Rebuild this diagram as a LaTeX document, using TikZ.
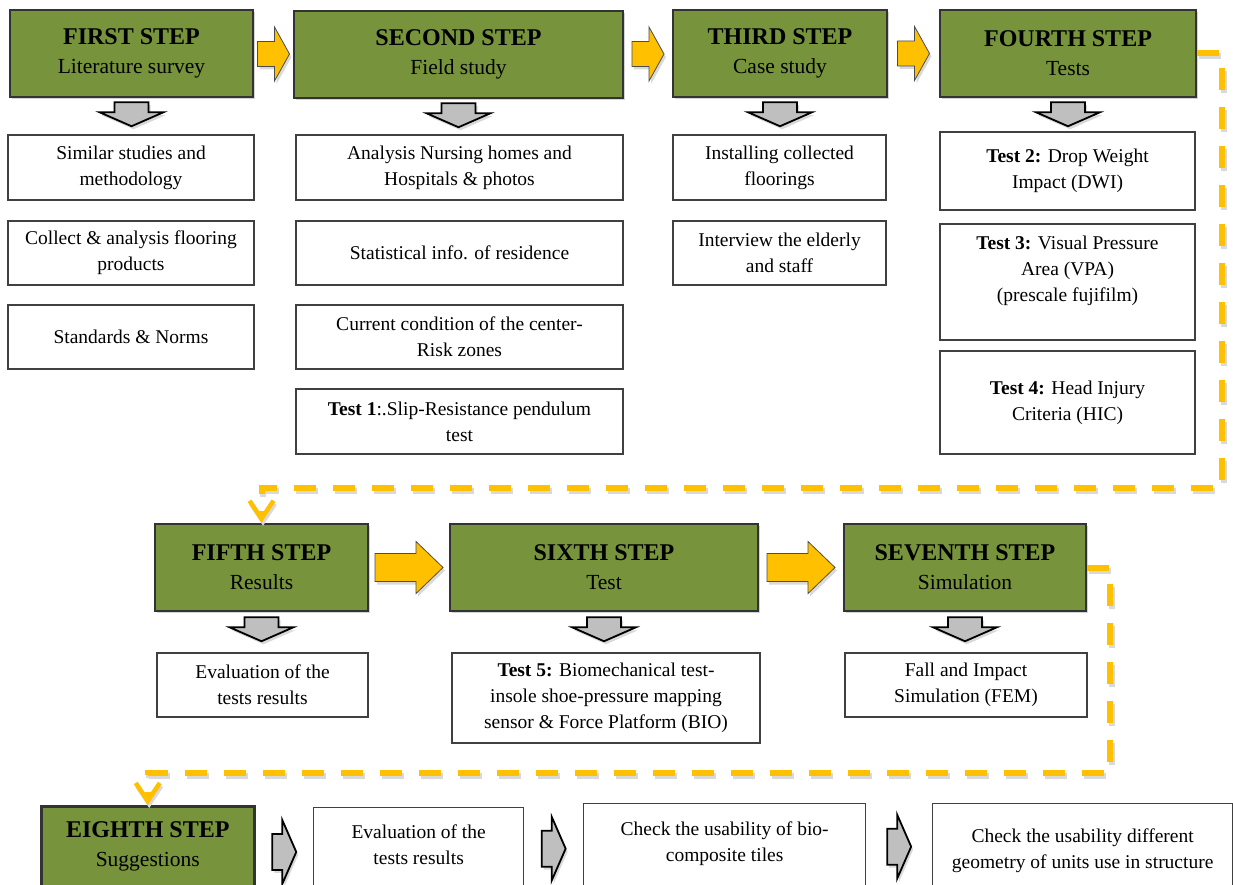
\documentclass[tikz,border=0pt]{standalone}
\usepackage{fontspec}
\setmainfont{Liberation Serif}
\usetikzlibrary{positioning,calc,shadows,arrows.meta}
\definecolor{stepgreen}{HTML}{77933C}
\definecolor{flowyellow}{HTML}{FFC000}
\definecolor{arrowgray}{HTML}{BFBFBF}
\definecolor{boxline}{HTML}{404040}
\newcommand{\steptitle}[2]{{\fontsize{24}{29}\selectfont\bfseries #1}\\#2}

\begin{document}
\begin{tikzpicture}[x=1pt,y=-1pt,
    stepbox/.style={draw=black!80,line width=2.5pt,fill=stepgreen,align=center,
        font=\fontsize{21.5}{29}\selectfont,
        drop shadow={shadow xshift=2pt,shadow yshift=-2pt,opacity=.35}},
    infobox/.style={draw=boxline,line width=1.3pt,fill=white,align=center,
        font=\fontsize{19.5}{26}\selectfont},
    steplab/.style={anchor=north,align=center,font=\fontsize{21.5}{29}\selectfont},
    infolab/.style={anchor=north,align=center,font=\fontsize{19.5}{26}\selectfont},
    yarr/.style={draw=black!70,line width=.8pt,fill=flowyellow,
        drop shadow={shadow xshift=2pt,shadow yshift=-3pt,opacity=.3}},
    garr/.style={draw=black,line width=1.8pt,fill=arrowgray,line join=miter,
        drop shadow={shadow xshift=2pt,shadow yshift=-3pt,opacity=.3}},
    flow/.style={draw=flowyellow,line width=6pt,dash pattern=on 22pt off 17pt,
        -{Straight Barb[length=18pt,width=24pt,line width=4.5pt]}},
    flowshadow/.style={flow,draw=black!15,transform canvas={shift={(1.5pt,-3pt)}}},
    yarrS/.pic={\draw[yarr] (-16,-12.5) -- (1,-12.5) -- (1,-27) -- (16,0) -- (1,27)
        -- (1,12.5) -- (-16,12.5) -- cycle;},
    yarrL/.pic={\draw[yarr] (-34,-14) -- (7,-14) -- (7,-26) -- (34,0) -- (7,26)
        -- (7,14) -- (-34,14) -- cycle;},
    garrD/.pic={\draw[garr] (-17,0) -- (17,0) -- (17,10) -- (32,10) -- (0,24)
        -- (-32,10) -- (-17,10) -- cycle;},
    garrR/.pic={\draw[garr] (-12,-18) -- (-2,-18) -- (-2,-32) -- (12,0) -- (-2,32)
        -- (-2,18) -- (-12,18) -- cycle;}]
    \useasboundingbox (0,0) rectangle (1233,885);
    \clip (0,0) rectangle (1233,885);

    \node[stepbox,minimum width=243,minimum height=87] (s1) at (131.5,53.5)
        {\steptitle{FIRST STEP}{Literature survey}};
    \node[stepbox,minimum width=329,minimum height=87] (s2) at (458.5,54.5)
        {\steptitle{SECOND STEP}{Field study}};
    \node[stepbox,minimum width=214,minimum height=87] (s3) at (780,53.5)
        {\steptitle{THIRD STEP}{Case study}};
    \node[stepbox,minimum width=256,minimum height=87] (s4) at (1068,53.5)
        {\steptitle{FOURTH STEP}{Tests}};

    \node[infobox,minimum width=246,minimum height=65] (b11) at (131,167.5)
        {Similar studies and\\methodology};
    \node[infobox,minimum width=246,minimum height=64] (b12) at (131,253)
        {Collect \& analysis flooring\\products};
    \node[infobox,minimum width=246,minimum height=64] (b13) at (131,337)
        {Standards \& Norms};
    \node[infobox,minimum width=327,minimum height=65] (b21) at (459.5,167.5)
        {Analysis Nursing homes and\\Hospitals \& photos};
    \node[infobox,minimum width=327,minimum height=64] (b22) at (459.5,253)
        {Statistical info. of residence};
    \node[infobox,minimum width=327,minimum height=64] (b23) at (459.5,337)
        {Current condition of the center-\\Risk zones};
    \node[infobox,minimum width=327,minimum height=65] (b24) at (459.5,421.5)
        {\textbf{Test 1}:.Slip-Resistance pendulum\\test};
    \node[infobox,minimum width=213,minimum height=65] (b31) at (779.5,167.5)
        {Installing collected\\floorings};
    \node[infobox,minimum width=213,minimum height=64] (b32) at (779.5,253)
        {Interview the elderly\\and staff};
    \node[infobox,minimum width=255,minimum height=78] (b41) at (1067.5,171)
        {\textbf{Test 2:} Drop Weight\\Impact (DWI)};
    \node[infobox,minimum width=255,minimum height=116,
        label={[infolab,yshift=-9pt]north:\textbf{Test 3:} Visual Pressure\\Area (VPA)\\(prescale fujifilm)}]
        (b42) at (1067.5,282) {};
    \node[infobox,minimum width=255,minimum height=103] (b43) at (1067.5,402.5)
        {\textbf{Test 4:} Head Injury\\Criteria (HIC)};

    \node[stepbox,minimum width=213,minimum height=87] (s5) at (261.5,567.5)
        {\steptitle{FIFTH STEP}{Results}};
    \node[stepbox,minimum width=308,minimum height=87] (s6) at (604,567.5)
        {\steptitle{SIXTH STEP}{Test}};
    \node[stepbox,minimum width=242,minimum height=87] (s7) at (965,567.5)
        {\steptitle{SEVENTH STEP}{Simulation}};

    \node[infobox,minimum width=211,minimum height=64] (b51) at (262.5,685)
        {Evaluation of the\\tests results};
    \node[infobox,minimum width=308,minimum height=90] (b61) at (606,698)
        {\textbf{Test 5:} Biomechanical test-\\insole shoe-pressure mapping\\sensor \& Force Platform (BIO)};
    \node[infobox,minimum width=242,minimum height=64] (b71) at (966,685)
        {Fall and Impact\\Simulation (FEM)};

    \node[stepbox,anchor=north west,minimum width=213,minimum height=110,
        label={[steplab,yshift=-13pt]north:\steptitle{EIGHTH STEP}{Suggestions}}]
        (s8) at (40,805) {};
    \node[infobox,anchor=north west,minimum width=210,minimum height=110,
        label={[infolab,yshift=-14pt]north:Evaluation of the\\tests results}]
        (e1) at (313,807) {};
    \node[infobox,anchor=north west,minimum width=282,minimum height=110,
        label={[infolab,yshift=-15pt]north:Check the usability of bio-\\composite tiles}]
        (e2) at (583,803) {};
    \node[infobox,anchor=north west,minimum width=300,minimum height=110,
        label={[infolab,yshift=-22pt]north:Check the usability different\\geometry of units use in structure}]
        (e3) at (932,803) {};

    \pic at ($(s1.east)!.5!(s2.west)$) {yarrS};
    \pic at ($(s2.east)!.5!(s3.west)$) {yarrS};
    \pic at ($(s3.east)!.5!(s4.west)$) {yarrS};
    \pic at ($(s5.east)!.5!(s6.west)$) {yarrL};
    \pic at ($(s6.east)!.5!(s7.west)$) {yarrL};

    \pic at ([yshift=-4pt]s1.south) {garrD};
    \pic at ([yshift=-4pt]s2.south) {garrD};
    \pic at ([yshift=-4pt]s3.south) {garrD};
    \pic at ([yshift=-4pt]s4.south) {garrD};
    \pic at ([yshift=-5pt]s5.south) {garrD};
    \pic at ([yshift=-5pt]s6.south) {garrD};
    \pic at ([yshift=-5pt]s7.south) {garrD};

    \pic at ([yshift=10pt]$(s8.east)!.5!(e1.west)$) {garrR};
    \pic at ([yshift=12pt]$(e1.east)!.5!(e2.west)$) {garrR};
    \pic at ([yshift=12pt]$(e2.east)!.5!(e3.west)$) {garrR};

    \coordinate (c1) at (1222,488);
    \coordinate (c2) at (1110,773);
    \draw[flowshadow] (s4.east) -| (c1) -| (s5.north);
    \draw[flow] (s4.east) -| (c1) -| (s5.north);
    \draw[flowshadow] (s7.east) -| (c2) -| (s8.north);
    \draw[flow] (s7.east) -| (c2) -| (s8.north);
\end{tikzpicture}
\end{document}
